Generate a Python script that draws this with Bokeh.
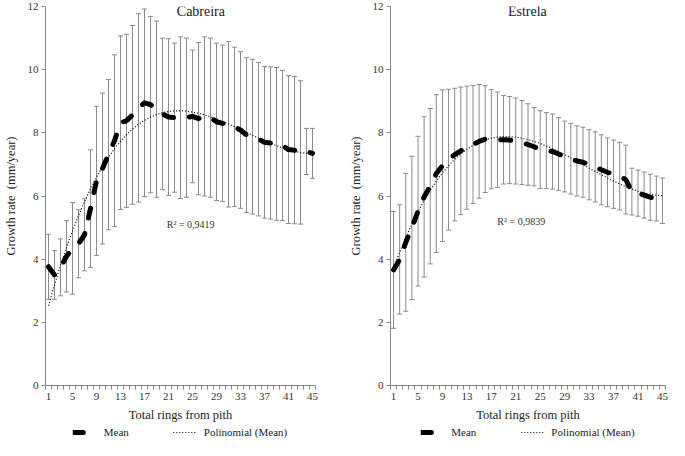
import numpy as np
from bokeh.plotting import figure
from bokeh.layouts import row, column
from bokeh.models import (ColumnDataSource, Whisker, TeeHead, Range1d, FixedTicker,
                          Label, Legend, LegendItem)
from bokeh.embed import file_html
from bokeh.resources import INLINE

rings = list(range(1, 46))
x_ticks = [1, 5, 9, 13, 17, 21, 25, 29, 33, 37, 41, 45]
y_ticks = [0, 2, 4, 6, 8, 10, 12]

cab_mean = [3.76, 3.50, 3.74, 4.09, 4.34, 4.49, 4.77, 5.60, 6.48, 6.87, 7.31, 7.75, 8.32, 8.38, 8.57,
            8.79, 8.95, 8.89, 8.75, 8.60, 8.50, 8.48, 8.48, 8.48, 8.52, 8.45, 8.52, 8.48, 8.35, 8.30,
            8.27, 8.19, 8.09, 7.93, 7.88, 7.80, 7.70, 7.68, 7.65, 7.60, 7.47, 7.45, 7.38, 7.41, 7.35]
cab_sd = [1.03, 0.77, 0.90, 1.13, 1.45, 1.08, 1.14, 1.86, 2.36, 2.39, 2.38, 2.72, 2.75, 2.74, 2.83,
          2.98, 2.97, 2.79, 2.79, 2.40, 2.48, 2.36, 2.56, 2.52, 2.10, 2.41, 2.52, 2.52, 2.49, 2.48,
          2.62, 2.52, 2.48, 2.45, 2.45, 2.43, 2.40, 2.41, 2.42, 2.38, 2.34, 2.33, 2.27, 0.73, 0.79]

est_mean = [3.66, 3.99, 4.53, 4.99, 5.52, 5.97, 6.31, 6.71, 6.96, 7.15, 7.31, 7.43, 7.53, 7.63, 7.73,
            7.80, 7.80, 7.78, 7.78, 7.77, 7.74, 7.69, 7.63, 7.56, 7.47, 7.44, 7.41, 7.33, 7.25, 7.18,
            7.11, 7.07, 6.99, 6.92, 6.83, 6.75, 6.69, 6.63, 6.52, 6.14, 6.09, 6.03, 5.96, 5.92, 5.85]
est_sd = [1.85, 1.73, 2.18, 2.27, 2.37, 2.54, 2.46, 2.50, 2.40, 2.23, 2.10, 2.02, 1.95, 1.87, 1.80,
          1.69, 1.57, 1.51, 1.40, 1.38, 1.36, 1.33, 1.29, 1.24, 1.23, 1.20, 1.19, 1.15, 1.12, 1.12,
          1.11, 1.11, 1.11, 1.11, 1.11, 1.09, 1.08, 1.07, 1.09, 0.74, 0.73, 0.73, 0.73, 0.71, 0.72]

titles = ["Cabreira", "Estrela"]
r2_texts = ["R\u00b2 = 0,9419", "R\u00b2 = 0,9839"]
legend_labels = ["Mean", "Polinomial (Mean)"]

FONT = "Liberation Serif"
AXIS_GRAY = "#868686"
BAR_GRAY = "#8a8a8a"
MEAN_STYLE = dict(line_color="black", line_width=5, line_dash="10 16",
                  line_cap="round", line_join="round")
POLY_STYLE = dict(line_color="black", line_width=1.2, line_dash="1 2")


def make_panel(title, mean, sd, r2, width, title_xy, r2_xy, border_right):
    p = figure(width=width, height=424, output_backend="svg", toolbar_location=None,
               x_range=Range1d(0.5, 45.5), y_range=Range1d(0, 12),
               min_border_top=6, min_border_right=border_right, min_border_left=4,
               min_border_bottom=30)
    p.outline_line_color = None
    p.xgrid.visible = False
    p.ygrid.visible = False

    m = np.array(mean)
    s = np.array(sd)
    src = ColumnDataSource(dict(x=rings, mean=m, upper=m + s, lower=m - s))

    wh = Whisker(source=src, base="x", upper="upper", lower="lower",
                 line_color=BAR_GRAY, line_width=1,
                 upper_head=TeeHead(size=5, line_color=BAR_GRAY, line_width=1),
                 lower_head=TeeHead(size=5, line_color=BAR_GRAY, line_width=1))
    p.add_layout(wh)

    coeffs = np.polyfit(rings, m, 3)
    trend = np.polyval(coeffs, rings)
    p.line(rings, trend, **POLY_STYLE)
    p.line("x", "mean", source=src, **MEAN_STYLE)

    p.add_layout(Label(x=title_xy[0], y=title_xy[1], text=title, text_font=FONT,
                       text_font_size="14px", text_align="center", text_baseline="middle",
                       text_color="#222222"))
    p.add_layout(Label(x=r2_xy[0], y=r2_xy[1], text=r2, text_font=FONT,
                       text_font_size="10px", text_align="center", text_baseline="middle",
                       text_color="#333333"))

    xa = p.xaxis[0]
    xa.ticker = FixedTicker(ticks=x_ticks, minor_ticks=[v - 0.5 for v in rings] + [45.5])
    xa.major_tick_out = 0
    xa.major_tick_in = 0
    xa.minor_tick_out = 4
    xa.minor_tick_in = 0
    xa.axis_label = "Total rings from pith"

    ya = p.yaxis[0]
    ya.ticker = FixedTicker(ticks=y_ticks)
    ya.major_tick_out = 4
    ya.major_tick_in = 0
    ya.minor_tick_out = 0
    ya.minor_tick_in = 0
    ya.axis_label = "Growth rate\u00a0 (mm/year)"

    for ax in (xa, ya):
        ax.axis_line_color = AXIS_GRAY
        ax.major_tick_line_color = AXIS_GRAY
        ax.minor_tick_line_color = AXIS_GRAY
        ax.major_label_text_font = FONT
        ax.major_label_text_font_size = "11px"
        ax.major_label_text_color = "#333333"
        ax.major_label_standoff = 3
        ax.axis_label_text_font = FONT
        ax.axis_label_text_font_size = "12.5px"
        ax.axis_label_text_font_style = "normal"
        ax.axis_label_text_color = "#222222"
        ax.axis_label_standoff = 5
    ya.axis_label_standoff = 7

    # legend strip below the chart
    lg = figure(width=width, height=16, output_backend="svg", toolbar_location=None,
                x_range=Range1d(0, 1), y_range=Range1d(0, 1),
                x_axis_location=None, y_axis_location=None,
                min_border=0)
    lg.outline_line_color = None
    lg.xgrid.visible = False
    lg.ygrid.visible = False
    r_mean = lg.line([-5, -4], [-5, -5], **MEAN_STYLE)
    r_poly = lg.line([-5, -4], [-5, -5], **POLY_STYLE)
    legend = Legend(items=[LegendItem(label=legend_labels[0], renderers=[r_mean]),
                           LegendItem(label=legend_labels[1], renderers=[r_poly])],
                    orientation="horizontal", location="center", spacing=44,
                    border_line_alpha=0, background_fill_alpha=0,
                    label_text_font=FONT, label_text_font_size="11px",
                    label_text_color="#222222",
                    glyph_width=24, glyph_height=12, label_height=12,
                    label_standoff=7, padding=2, margin=0)
    lg.add_layout(legend)
    return column(p, lg)


c1 = make_panel(titles[0], cab_mean, cab_sd, r2_texts[0], 345, (26.4, 11.85), (24.7, 5.1), 30)
c2 = make_panel(titles[1], est_mean, est_sd, r2_texts[1], 324, (22.9, 11.85), (21.9, 5.2), 4)

layout = row(c1, c2)
open("out.html", "w").write(file_html(layout, INLINE))
